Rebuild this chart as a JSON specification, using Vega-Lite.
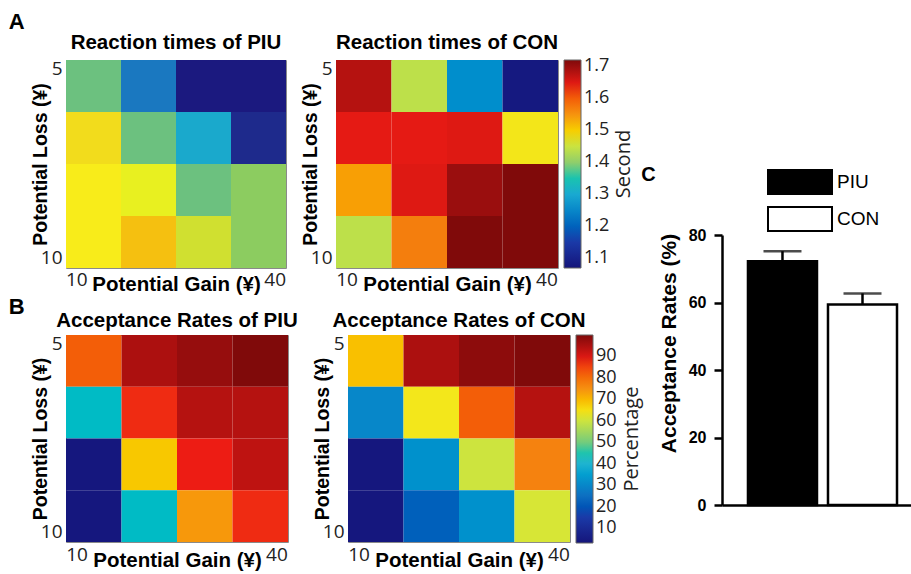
{
  "$schema": "https://vega.github.io/schema/vega-lite/v6.json",
  "padding": {"left": 8, "top": 10, "right": 0, "bottom": 0},
  "background": "white",
  "datasets": {
    "rt": [
      {"group": "PIU", "loss": 5, "gain": 10, "rt": 1.37}, {"group": "PIU", "loss": 5, "gain": 20, "rt": 1.19}, {"group": "PIU", "loss": 5, "gain": 30, "rt": 1.08}, {"group": "PIU", "loss": 5, "gain": 40, "rt": 1.08},
      {"group": "PIU", "loss": 6.7, "gain": 10, "rt": 1.63}, {"group": "PIU", "loss": 6.7, "gain": 20, "rt": 1.37}, {"group": "PIU", "loss": 6.7, "gain": 30, "rt": 1.26}, {"group": "PIU", "loss": 6.7, "gain": 40, "rt": 1.10},
      {"group": "PIU", "loss": 8.3, "gain": 10, "rt": 1.60}, {"group": "PIU", "loss": 8.3, "gain": 20, "rt": 1.55}, {"group": "PIU", "loss": 8.3, "gain": 30, "rt": 1.37}, {"group": "PIU", "loss": 8.3, "gain": 40, "rt": 1.42},
      {"group": "PIU", "loss": 10, "gain": 10, "rt": 1.60}, {"group": "PIU", "loss": 10, "gain": 20, "rt": 1.68}, {"group": "PIU", "loss": 10, "gain": 30, "rt": 1.50}, {"group": "PIU", "loss": 10, "gain": 40, "rt": 1.42},
      {"group": "CON", "loss": 5, "gain": 10, "rt": 1.68}, {"group": "CON", "loss": 5, "gain": 20, "rt": 1.44}, {"group": "CON", "loss": 5, "gain": 30, "rt": 1.26}, {"group": "CON", "loss": 5, "gain": 40, "rt": 1.08},
      {"group": "CON", "loss": 6.7, "gain": 10, "rt": 1.645}, {"group": "CON", "loss": 6.7, "gain": 20, "rt": 1.645}, {"group": "CON", "loss": 6.7, "gain": 30, "rt": 1.65}, {"group": "CON", "loss": 6.7, "gain": 40, "rt": 1.48},
      {"group": "CON", "loss": 8.3, "gain": 10, "rt": 1.54}, {"group": "CON", "loss": 8.3, "gain": 20, "rt": 1.65}, {"group": "CON", "loss": 8.3, "gain": 30, "rt": 1.70}, {"group": "CON", "loss": 8.3, "gain": 40, "rt": 1.72},
      {"group": "CON", "loss": 10, "gain": 10, "rt": 1.44}, {"group": "CON", "loss": 10, "gain": 20, "rt": 1.57}, {"group": "CON", "loss": 10, "gain": 30, "rt": 1.72}, {"group": "CON", "loss": 10, "gain": 40, "rt": 1.72}
    ],
    "ar": [
      {"group": "PIU", "loss": 5, "gain": 10, "ar": 82}, {"group": "PIU", "loss": 5, "gain": 20, "ar": 95}, {"group": "PIU", "loss": 5, "gain": 30, "ar": 97.5}, {"group": "PIU", "loss": 5, "gain": 40, "ar": 100},
      {"group": "PIU", "loss": 6.7, "gain": 10, "ar": 42}, {"group": "PIU", "loss": 6.7, "gain": 20, "ar": 87}, {"group": "PIU", "loss": 6.7, "gain": 30, "ar": 94}, {"group": "PIU", "loss": 6.7, "gain": 40, "ar": 94},
      {"group": "PIU", "loss": 8.3, "gain": 10, "ar": 4}, {"group": "PIU", "loss": 8.3, "gain": 20, "ar": 68}, {"group": "PIU", "loss": 8.3, "gain": 30, "ar": 88}, {"group": "PIU", "loss": 8.3, "gain": 40, "ar": 93},
      {"group": "PIU", "loss": 10, "gain": 10, "ar": 4}, {"group": "PIU", "loss": 10, "gain": 20, "ar": 42}, {"group": "PIU", "loss": 10, "gain": 30, "ar": 74}, {"group": "PIU", "loss": 10, "gain": 40, "ar": 87},
      {"group": "CON", "loss": 5, "gain": 10, "ar": 69}, {"group": "CON", "loss": 5, "gain": 20, "ar": 95}, {"group": "CON", "loss": 5, "gain": 30, "ar": 98.5}, {"group": "CON", "loss": 5, "gain": 40, "ar": 100},
      {"group": "CON", "loss": 6.7, "gain": 10, "ar": 30}, {"group": "CON", "loss": 6.7, "gain": 20, "ar": 64}, {"group": "CON", "loss": 6.7, "gain": 30, "ar": 82}, {"group": "CON", "loss": 6.7, "gain": 40, "ar": 94},
      {"group": "CON", "loss": 8.3, "gain": 10, "ar": 4}, {"group": "CON", "loss": 8.3, "gain": 20, "ar": 32}, {"group": "CON", "loss": 8.3, "gain": 30, "ar": 60}, {"group": "CON", "loss": 8.3, "gain": 40, "ar": 77},
      {"group": "CON", "loss": 10, "gain": 10, "ar": 4}, {"group": "CON", "loss": 10, "gain": 20, "ar": 22}, {"group": "CON", "loss": 10, "gain": 30, "ar": 32}, {"group": "CON", "loss": 10, "gain": 40, "ar": 61}
    ],
    "bars": [
      {"group": "PIU", "mean": 72.2, "upper": 75.2},
      {"group": "CON", "mean": 59.4, "upper": 62.7}
    ]
  },
  "config": {
    "view": {"stroke": "#8a8a8a", "strokeWidth": 1},
    "title": {"font": "Liberation Sans", "fontWeight": "bold", "color": "black"},
    "axis": {"labelColor": "#222", "titleColor": "black"}
  },
  "resolve": {"scale": {"color": "independent", "fill": "independent"}, "legend": {"color": "independent", "fill": "independent"}},
  "hconcat": [
    {
      "resolve": {"scale": {"color": "independent"}, "legend": {"color": "independent"}},
      "vconcat": [
        {
          "title": {"text": "A", "anchor": "start", "dx": -21, "fontSize": 22, "offset": -1},
          "spacing": 12,
          "resolve": {"scale": {"color": "independent"}, "legend": {"color": "independent"}},
          "hconcat": [
            {
              "width": 220, "height": 208,
              "title": {"text": "Reaction times of PIU", "fontSize": 20.5, "frame": "group", "offset": 6},
              "data": {"name": "rt"},
              "transform": [{"filter": "datum.group == 'PIU'"}],
              "mark": {"type": "rect"},
              "encoding": {
                "x": {"field": "gain", "type": "ordinal", "scale": {"paddingInner": 0, "paddingOuter": 0},
                  "axis": {"values": [10, 40], "title": "Potential Gain (¥)", "labelAngle": 0, "domain": false, "ticks": false,
                    "labelAlign": {"condition": {"test": "datum.value == 10", "value": "left"}, "value": "right"},
                    "labelOffset": {"condition": {"test": "datum.value == 10", "value": -27.5}, "value": 27.5},
                    "labelBaseline": "top", "labelPadding": 2, "titlePadding": -15,
                    "labelFont": "Open Sans", "labelFontSize": 19, "titleFont": "Liberation Sans", "titleFontSize": 20.5, "titleFontWeight": "bold"}},
                "y": {"field": "loss", "type": "ordinal", "scale": {"paddingInner": 0, "paddingOuter": 0},
                  "axis": {"values": [5, 10], "title": "Potential Loss (¥)", "domain": false, "ticks": false,
                    "labelBaseline": {"condition": {"test": "datum.value == 5", "value": "top"}, "value": "bottom"},
                    "labelOffset": {"condition": {"test": "datum.value == 5", "value": -26}, "value": 26},
                    "labelPadding": 4, "titlePadding": -10,
                    "labelFont": "Open Sans", "labelFontSize": 19, "titleFont": "Liberation Sans", "titleFontSize": 19.5, "titleFontWeight": "bold"}},
                "color": {"field": "rt", "type": "quantitative",
                  "scale": {"domain": [1.07, 1.10, 1.19, 1.26, 1.37, 1.42, 1.50, 1.55, 1.60, 1.63, 1.68],
                    "range": ["#1a1078", "#1e2a8c", "#1a78c0", "#1aa9cc", "#6cc17f", "#8ccc60", "#d0e030", "#e8f020", "#f8ec1a", "#f2dc1c", "#f5c010"], "zero": false, "nice": false, "clamp": true},
                  "legend": null}
              }
            },
            {
              "width": 222, "height": 208,
              "title": {"text": "Reaction times of CON", "fontSize": 20.5, "frame": "group", "offset": 6},
              "data": {"name": "rt"},
              "transform": [{"filter": "datum.group == 'CON'"}],
              "mark": {"type": "rect"},
              "encoding": {
                "x": {"field": "gain", "type": "ordinal", "scale": {"paddingInner": 0, "paddingOuter": 0},
                  "axis": {"values": [10, 40], "title": "Potential Gain (¥)", "labelAngle": 0, "domain": false, "ticks": false,
                    "labelAlign": {"condition": {"test": "datum.value == 10", "value": "left"}, "value": "right"},
                    "labelOffset": {"condition": {"test": "datum.value == 10", "value": -27.5}, "value": 27.5},
                    "labelBaseline": "top", "labelPadding": 2, "titlePadding": -15,
                    "labelFont": "Open Sans", "labelFontSize": 19, "titleFont": "Liberation Sans", "titleFontSize": 20.5, "titleFontWeight": "bold"}},
                "y": {"field": "loss", "type": "ordinal", "scale": {"paddingInner": 0, "paddingOuter": 0},
                  "axis": {"values": [5, 10], "title": "Potential Loss (¥)", "domain": false, "ticks": false,
                    "labelBaseline": {"condition": {"test": "datum.value == 5", "value": "top"}, "value": "bottom"},
                    "labelOffset": {"condition": {"test": "datum.value == 5", "value": -26}, "value": 26},
                    "labelPadding": 4, "titlePadding": -10,
                    "labelFont": "Open Sans", "labelFontSize": 19, "titleFont": "Liberation Sans", "titleFontSize": 19.5, "titleFontWeight": "bold"}},
                "color": {"field": "rt", "type": "quantitative",
                  "scale": {"domain": [1.07, 1.15125, 1.2325, 1.31375, 1.395, 1.47625, 1.5575, 1.63875, 1.72],
                    "range": ["#14147a", "#1a3aa8", "#1d7ac4", "#2ab2d2", "#8ccc6e", "#f2ea1e", "#f58a14", "#ee1c14", "#800a0a"], "zero": false, "nice": false, "clamp": true},
                  "legend": {"values": [1.1, 1.2, 1.3, 1.4, 1.5, 1.6, 1.7], "format": ".1f", "title": "Second", "titleOrient": "right",
                    "gradientLength": 208, "gradientThickness": 17, "offset": 6, "padding": 0,
                    "labelFont": "Open Sans", "labelFontSize": 18, "labelColor": "#222", "labelOffset": 3,
                    "titleFont": "Open Sans", "titleFontSize": 20, "titleFontWeight": "normal", "titleColor": "#222", "titlePadding": 5,
                    "gradientStrokeColor": "#666", "gradientStrokeWidth": 1,
                    "encoding": {"title": {"angle": {"value": -90}, "baseline": {"value": "top"}}}}}
              }
            }
          ]
        },
        {
          "title": {"text": "B", "anchor": "start", "dx": -21, "fontSize": 22, "offset": -9},
          "spacing": 12,
          "resolve": {"scale": {"color": "independent"}, "legend": {"color": "independent"}},
          "hconcat": [
            {
              "width": 222, "height": 207,
              "title": {"text": "Acceptance Rates of PIU", "fontSize": 20.5, "frame": "group", "offset": 3},
              "data": {"name": "ar"},
              "transform": [{"filter": "datum.group == 'PIU'"}],
              "mark": {"type": "rect"},
              "encoding": {
                "x": {"field": "gain", "type": "ordinal", "scale": {"paddingInner": 0, "paddingOuter": 0},
                  "axis": {"values": [10, 40], "title": "Potential Gain (¥)", "labelAngle": 0, "domain": false, "ticks": false,
                    "labelAlign": {"condition": {"test": "datum.value == 10", "value": "left"}, "value": "right"},
                    "labelOffset": {"condition": {"test": "datum.value == 10", "value": -27.5}, "value": 27.5},
                    "labelBaseline": "top", "labelPadding": 3, "titlePadding": -14,
                    "labelFont": "Open Sans", "labelFontSize": 19, "titleFont": "Liberation Sans", "titleFontSize": 20.5, "titleFontWeight": "bold"}},
                "y": {"field": "loss", "type": "ordinal", "scale": {"paddingInner": 0, "paddingOuter": 0},
                  "axis": {"values": [5, 10], "title": "Potential Loss (¥)", "domain": false, "ticks": false,
                    "labelBaseline": {"condition": {"test": "datum.value == 5", "value": "top"}, "value": "bottom"},
                    "labelOffset": {"condition": {"test": "datum.value == 5", "value": -26}, "value": 26},
                    "labelPadding": 4, "titlePadding": -10,
                    "labelFont": "Open Sans", "labelFontSize": 19, "titleFont": "Liberation Sans", "titleFontSize": 19.5, "titleFontWeight": "bold"}},
                "color": {"field": "ar", "type": "quantitative",
                  "scale": {"domain": [3, 15.125, 27.25, 39.375, 51.5, 63.625, 75.75, 87.875, 100],
                    "range": ["#14147a", "#1a3aa8", "#1d7ac4", "#2ab2d2", "#8ccc6e", "#f2ea1e", "#f58a14", "#ee1c14", "#800a0a"], "zero": false, "nice": false, "clamp": true},
                  "legend": null}
              }
            },
            {
              "width": 222, "height": 207,
              "title": {"text": "Acceptance Rates of CON", "fontSize": 20.5, "frame": "group", "offset": 3},
              "data": {"name": "ar"},
              "transform": [{"filter": "datum.group == 'CON'"}],
              "mark": {"type": "rect"},
              "encoding": {
                "x": {"field": "gain", "type": "ordinal", "scale": {"paddingInner": 0, "paddingOuter": 0},
                  "axis": {"values": [10, 40], "title": "Potential Gain (¥)", "labelAngle": 0, "domain": false, "ticks": false,
                    "labelAlign": {"condition": {"test": "datum.value == 10", "value": "left"}, "value": "right"},
                    "labelOffset": {"condition": {"test": "datum.value == 10", "value": -27.5}, "value": 27.5},
                    "labelBaseline": "top", "labelPadding": 3, "titlePadding": -14,
                    "labelFont": "Open Sans", "labelFontSize": 19, "titleFont": "Liberation Sans", "titleFontSize": 20.5, "titleFontWeight": "bold"}},
                "y": {"field": "loss", "type": "ordinal", "scale": {"paddingInner": 0, "paddingOuter": 0},
                  "axis": {"values": [5, 10], "title": "Potential Loss (¥)", "domain": false, "ticks": false,
                    "labelBaseline": {"condition": {"test": "datum.value == 5", "value": "top"}, "value": "bottom"},
                    "labelOffset": {"condition": {"test": "datum.value == 5", "value": -26}, "value": 26},
                    "labelPadding": 4, "titlePadding": -10,
                    "labelFont": "Open Sans", "labelFontSize": 19, "titleFont": "Liberation Sans", "titleFontSize": 19.5, "titleFontWeight": "bold"}},
                "color": {"field": "ar", "type": "quantitative",
                  "scale": {"domain": [3, 15.125, 27.25, 39.375, 51.5, 63.625, 75.75, 87.875, 100],
                    "range": ["#14147a", "#1a3aa8", "#1d7ac4", "#2ab2d2", "#8ccc6e", "#f2ea1e", "#f58a14", "#ee1c14", "#800a0a"], "zero": false, "nice": false, "clamp": true},
                  "legend": {"values": [10, 20, 30, 40, 50, 60, 70, 80, 90], "format": "d", "title": "Percentage", "titleOrient": "right",
                    "gradientLength": 208, "gradientThickness": 17, "offset": 6, "padding": 0,
                    "labelFont": "Open Sans", "labelFontSize": 18, "labelColor": "#222", "labelOffset": 3,
                    "titleFont": "Open Sans", "titleFontSize": 20, "titleFontWeight": "normal", "titleColor": "#222", "titlePadding": 5,
                    "gradientStrokeColor": "#666", "gradientStrokeWidth": 1,
                    "encoding": {"title": {"angle": {"value": -90}, "baseline": {"value": "top"}}}}}
              }
            }
          ]
        }
      ],
      "spacing": 1
    },
    {
      "spacing": 0,
      "resolve": {"scale": {"fill": "independent"}, "legend": {"fill": "independent"}},
      "vconcat": [
        {
          "width": 10, "height": 101,
          "view": {"stroke": null},
          "data": {"values": []},
          "mark": {"type": "point"},
          "encoding": {}
        },
        {
          "width": 190, "height": 270,
          "view": {"stroke": null},
          "title": {"text": "C", "anchor": "start", "dx": -17, "fontSize": 20, "offset": -24},
          "data": {"name": "bars"},
          "encoding": {
            "x": {"field": "group", "type": "nominal", "sort": ["PIU", "CON"],
              "scale": {"paddingInner": 0.1375, "paddingOuter": 0.256, "align": 0.634},
              "axis": {"labels": false, "ticks": false, "title": null, "domainWidth": 2.5, "domainColor": "black"}}
          },
          "layer": [
            {
              "mark": {"type": "rule", "strokeWidth": 2.5, "color": "black"},
              "encoding": {"y": {"field": "mean", "type": "quantitative"}, "y2": {"field": "upper"}}
            },
            {
              "mark": {"type": "tick", "thickness": 2.5, "size": 38, "color": "black"},
              "encoding": {"y": {"field": "upper", "type": "quantitative"}}
            },
            {
              "mark": {"type": "bar", "stroke": "black", "strokeWidth": 2.5},
              "encoding": {
                "y": {"field": "mean", "type": "quantitative", "scale": {"domain": [0, 80]},
                  "axis": {"values": [0, 20, 40, 60, 80], "title": "Acceptance Rates (%)", "grid": false,
                    "tickSize": 8, "tickWidth": 2.5, "tickColor": "black", "domainWidth": 2.5, "domainColor": "black",
                    "labelFont": "Liberation Sans", "labelFontWeight": "bold", "labelFontSize": 16, "labelColor": "black", "labelPadding": 8,
                    "titleFont": "Liberation Sans", "titleFontWeight": "bold", "titleFontSize": 21, "titleColor": "black", "titlePadding": 9, "titleY": 108}},
                "fill": {"field": "group", "type": "nominal", "scale": {"domain": ["PIU", "CON"], "range": ["black", "white"]},
                  "legend": {"title": null, "orient": "none", "legendX": 57, "legendY": -74,
                    "symbolType": "M-1.6,-0.6H1.6V0.6H-1.6Z", "symbolSize": 1600, "symbolStrokeColor": "black", "symbolStrokeWidth": 2,
                    "labelFont": "Liberation Sans", "labelFontSize": 19, "labelColor": "black", "labelOffset": 16, "rowPadding": -13}}
              }
            }
          ]
        }
      ]
    }
  ],
  "spacing": -2
}
